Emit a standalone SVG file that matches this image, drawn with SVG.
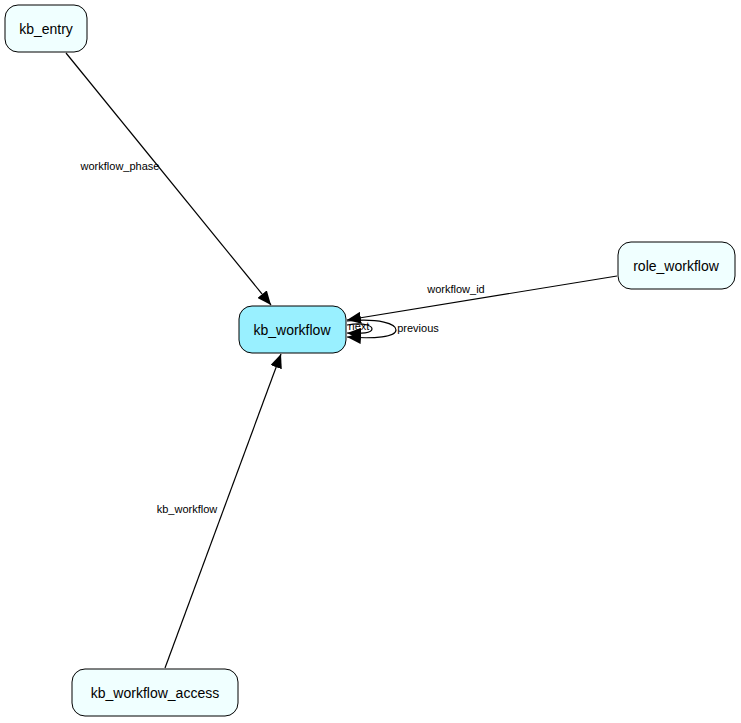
<svg xmlns="http://www.w3.org/2000/svg" width="741" height="723" viewBox="0 0 741 723">
<style>
.n rect{fill:#f0ffff;stroke:#000;stroke-width:1}
.n text{font-family:"Liberation Sans",Arial,sans-serif;font-size:14px;text-anchor:middle}
.e path{fill:none;stroke:#000;stroke-width:1.2}
.l{font-family:"Liberation Sans",Arial,sans-serif;font-size:11px;text-anchor:middle}
</style>
<defs><marker id="a" markerWidth="10" markerHeight="8" refX="10" refY="4" orient="auto" markerUnits="userSpaceOnUse"><path d="M0,0L10,4L0,8z" fill="#000"/></marker>
<marker id="b" markerWidth="14" markerHeight="12" refX="14" refY="6" orient="auto" markerUnits="userSpaceOnUse"><path d="M0,0L14,6L0,12z" fill="#000"/></marker></defs>
<rect width="741" height="723" fill="#fff"/>
<g class="e">
<path d="M66,53L271,305" marker-end="url(#b)"/>
<path d="M617,276L347,320" marker-end="url(#b)"/>
<path d="M165,668L281,354" marker-end="url(#b)"/>
<path d="M347,325C365,322 372,326 372,329C372,333 362,334 347,333" marker-end="url(#b)"/>
<path d="M347,321C380,318 396,324 396,330C396,337 375,339 347,337" marker-end="url(#b)"/>
</g>
<g>
<text class="l" x="120" y="170">workflow_phase</text>
<text class="l" x="456" y="293">workflow_id</text>
<text class="l" x="187" y="513">kb_workflow</text>
<text class="l" x="359" y="330">next</text>
<text class="l" x="418" y="332">previous</text>
</g>
<g id="kb_entry" class="n"><rect x="5" y="5" width="82" height="47" rx="13"/><text x="46" y="34">kb_entry</text></g>
<g id="kb_workflow" class="n"><rect x="239" y="306" width="107" height="47" rx="13" style="fill:#99f0ff"/><text x="292" y="335">kb_workflow</text></g>
<g id="role_workflow" class="n"><rect x="618" y="242" width="117" height="47" rx="13"/><text x="676" y="271">role_workflow</text></g>
<g id="kb_workflow_access" class="n"><rect x="72" y="669" width="166" height="47" rx="13"/><text x="155" y="698">kb_workflow_access</text></g>
</svg>
